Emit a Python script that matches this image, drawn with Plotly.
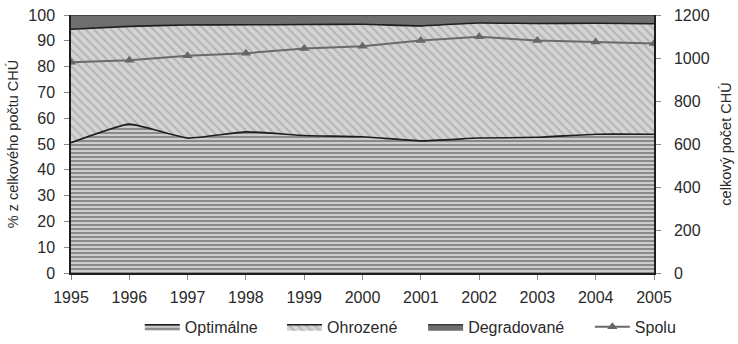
import plotly.graph_objects as go

# Stav chránených území (CHÚ) 1995–2005
years = [1995, 1996, 1997, 1998, 1999, 2000, 2001, 2002, 2003, 2004, 2005]
optimalne = [50.5, 57.7, 52.3, 54.7, 53.3, 52.8, 51.2, 52.3, 52.6, 53.8, 53.8]
ohrozene = [44.0, 37.9, 43.8, 41.5, 43.0, 43.6, 44.6, 44.6, 44.1, 43.0, 42.8]
degradovane = [5.5, 4.4, 3.9, 3.8, 3.7, 3.6, 4.2, 3.1, 3.3, 3.2, 3.4]
spolu = [980, 990, 1010, 1022, 1044, 1055, 1081, 1099, 1081, 1074, 1068]

FONT = "Liberation Sans, Arial, sans-serif"
TXT = "#2a2a2a"
EDGE = dict(color="#1e1e1e", width=1.6, shape="spline", smoothing=0.4)

fig = go.Figure()

fig.add_trace(go.Scatter(
    x=years, y=optimalne, name="Optimálne", stackgroup="stav", mode="lines",
    line=EDGE, legend="legend",
    fillpattern=dict(shape="-", size=4, solidity=0.5,
                     fgcolor="#8a8a8a", bgcolor="#cdcdcd", fillmode="replace"),
))
fig.add_trace(go.Scatter(
    x=years, y=ohrozene, name="Ohrozené", stackgroup="stav", mode="lines",
    line=EDGE, legend="legend2",
    fillpattern=dict(shape="\\", size=6, solidity=0.32,
                     fgcolor="#b4b4b4", bgcolor="#d4d4d4", fillmode="replace"),
))
fig.add_trace(go.Scatter(
    x=years, y=degradovane, name="Degradované", stackgroup="stav", mode="lines",
    line=dict(color="#3a3a3a", width=1.6, shape="spline", smoothing=0.4),
    fillcolor="#6e6e6e", legend="legend3",
))
fig.add_trace(go.Scatter(
    x=years, y=spolu, name="Spolu", yaxis="y2", mode="lines+markers",
    line=dict(color="#6a6a6a", width=2), legend="legend4",
    marker=dict(symbol="triangle-up", size=9, color="#666666"),
))

axis_common = dict(
    showgrid=False, zeroline=False, showline=True, linecolor="#1e1e1e", linewidth=1.5,
    ticks="outside", ticklen=5, tickcolor="#888888", automargin=False,
    tickfont=dict(family=FONT, size=16, color=TXT),
)


def legend_at(x):
    return dict(orientation="h", x=x, xanchor="left", y=-0.209, yanchor="middle",
                font=dict(family=FONT, size=16, color=TXT), itemwidth=35,
                bgcolor="rgba(0,0,0,0)", borderwidth=0)


fig.update_layout(
    width=738, height=344,
    margin=dict(l=71, r=84, t=15, b=71, autoexpand=False),
    paper_bgcolor="white", plot_bgcolor="white",
    font=dict(family=FONT, color=TXT),
    xaxis=dict(axis_common, range=[1995, 2005], tickmode="array", tickvals=years,
               ticklabelstandoff=4),
    yaxis=dict(axis_common, range=[0, 100], tickmode="linear", tick0=0, dtick=10,
               ticklabelstandoff=6,
               title=dict(text="% z celkového počtu CHÚ",
                          font=dict(family=FONT, size=14.5, color=TXT), standoff=6)),
    yaxis2=dict(axis_common, range=[0, 1200], tickmode="linear", tick0=0, dtick=200,
                overlaying="y", side="right", ticklabelstandoff=10,
                title=dict(text="celkový počet CHÚ",
                           font=dict(family=FONT, size=14.5, color=TXT), standoff=12)),
    showlegend=True,
    legend=legend_at(0.118),
    legend2=legend_at(0.362),
    legend3=legend_at(0.604),
    legend4=legend_at(0.890),
)

fig.write_html("out.html")
